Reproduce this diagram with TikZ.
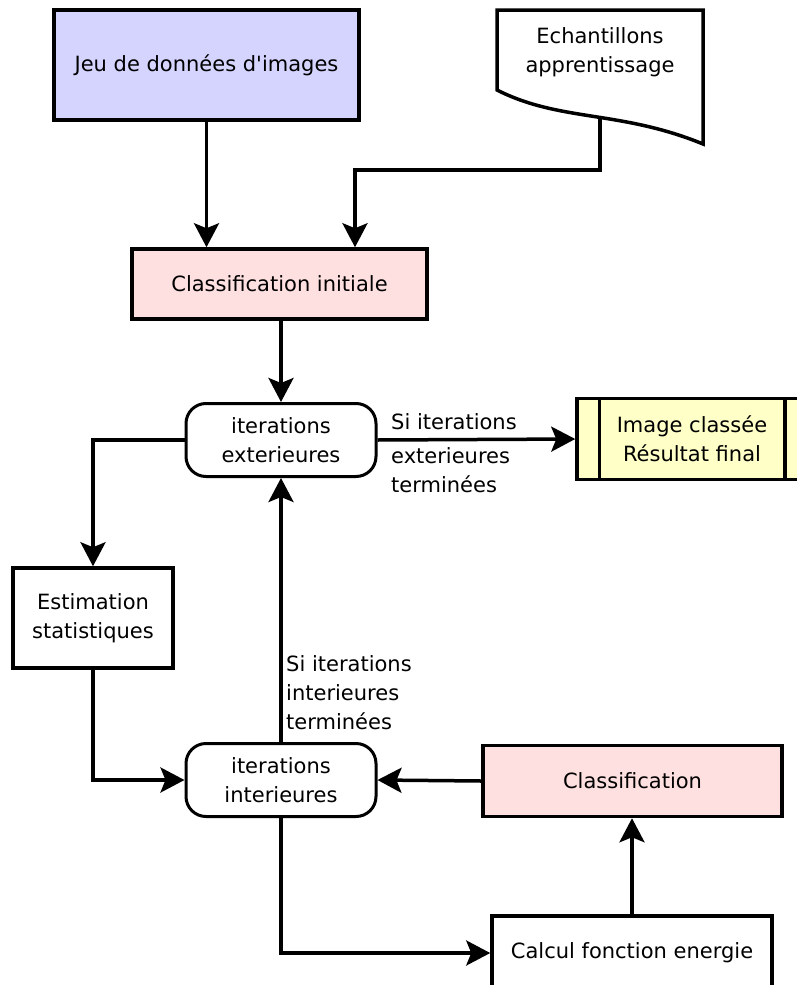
\documentclass[tikz,border=0pt]{standalone}
\usepackage{fontspec}
\setmainfont{DejaVu Sans}
\usetikzlibrary{arrows.meta}
\definecolor{lav}{RGB}{212,212,255}
\definecolor{pinkc}{RGB}{255,224,224}
\definecolor{yel}{RGB}{255,255,200}
\begin{document}
\begin{tikzpicture}[x=1pt,y=-1pt,
  every node/.style={font=\fontsize{21}{29}\selectfont, align=center, inner sep=0pt},
  boxst/.style={draw=black, line width=3.5pt, rectangle},
  pill/.style={draw=black, line width=3pt, rounded corners=20pt, minimum width=190pt, minimum height=73pt, fill=white},
  conn/.style={line width=3.5pt, -{Stealth[length=24pt,width=25pt,inset=5pt]}},
  lbl/.style={anchor=base west, align=left}]
\clip (0,0) rectangle (797,985);
\fill[white] (0,0) rectangle (797,985);
% nodes
\node[boxst, fill=lav, minimum width=305pt, minimum height=110pt] (jeu) at (206.5,65) {Jeu de données d\textquotesingle images};
\draw[line width=3.5pt, fill=white] (497,10) -- (703,10) -- (703,144) .. controls (620,110) and (560,122) .. (497,90) -- cycle;
\node (ech) at (600,52) {Echantillons\\apprentissage};
\coordinate (echb) at (600,116);
\coordinate (c1) at (355,170);
\node[boxst, fill=pinkc, minimum width=295pt, minimum height=70pt] (ci) at (279.5,284) {Classification initiale};
\node[pill] (ext) at (281,440) {iterations\\exterieures};
\node[boxst, fill=yel, minimum width=230pt, minimum height=81pt] (img) at (692,439) {Image classée\\Résultat final};
\draw[line width=3.5pt] ([xshift=24pt]img.north west) -- ([xshift=24pt]img.south west);
\draw[line width=3.5pt] ([xshift=-24pt]img.north east) -- ([xshift=-24pt]img.south east);
\node[boxst, fill=white, minimum width=160pt, minimum height=100pt] (est) at (93,618) {Estimation\\statistiques};
\node[pill] (int) at (281,780) {iterations\\interieures};
\node[boxst, fill=pinkc, minimum width=299pt, minimum height=71pt] (cls) at (632.5,781) {Classification};
\node[boxst, fill=white, minimum width=280pt, minimum height=74pt] (cal) at (632,953) {Calcul fonction energie};
% labels
\node[lbl] (l1) at (391,429) {Si iterations};
\node[lbl] (l2) at (391,492) {exterieures\\terminées};
\node[lbl] (l3) at (286,729) {Si iterations\\interieures\\terminées};
% connectors
\draw[conn] (jeu.south) -- (jeu.south |- ci.north);
\draw[conn] (echb) |- (c1) -- (c1 |- ci.north);
\draw[conn] (ci.south -| ext.north) -- (ext.north);
\draw[conn] (ext.east) -- (img.west);
\draw[conn] (ext.west) -| (est.north);
\draw[conn] (est.south) |- (int.west);
\draw[conn] (int.north) -- (ext.south);
\draw[conn] (cls.west) -- (int.east);
\draw[conn] (int.south) |- (cal.west);
\draw[conn] (cal.north) -- (cal.north |- cls.south);
\end{tikzpicture}
\end{document}
